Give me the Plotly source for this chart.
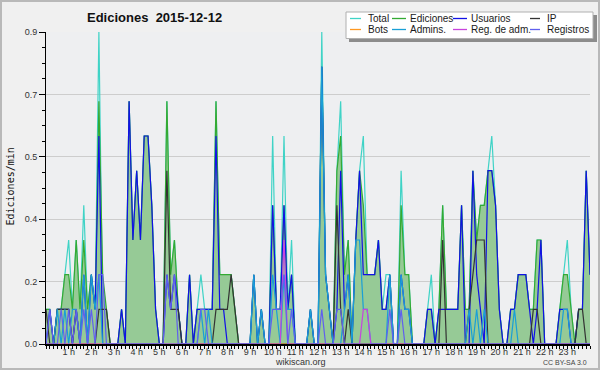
import plotly.graph_objects as go

# ---------------- data (10-minute buckets, edits per minute) ----------------
minutes = list(range(0, 1441, 10))
hours = [m / 60 for m in minutes]

total = [0.1,0.1,0,0.1,0.1,0.2,0.3,0.1,0.3,0.1,
         0.4,0.1,0.2,0.1,0.9,0.1,0.1,0,0,0,
         0.1,0,0.7,0.3,0.5,0.3,0.6,0.6,0.4,0.1,
         0,0,0.7,0.2,0.3,0.1,0,0,0.2,0,
         0.1,0.2,0.1,0.1,0.1,0.7,0.2,0.2,0.2,0.2,
         0.1,0,0,0,0,0.2,0,0.1,0,0,
         0.6,0.1,0.1,0.6,0.1,0.3,0,0,0,0,
         0.1,0,0,0.9,0.2,0.1,0,0.5,0.7,0.2,
         0.3,0,0.3,0.5,0.6,0.2,0.2,0.2,0.3,0.1,
         0.2,0.2,0,0,0.5,0.2,0.2,0,0,0,
         0,0.1,0.2,0,0.1,0.4,0.1,0.1,0.1,0.1,
         0.4,0.1,0.1,0.5,0.3,0.4,0.4,0.5,0.6,0.4,
         0.1,0,0,0.1,0.1,0.2,0.2,0.2,0.1,0.1,
         0.3,0.3,0,0,0,0,0.1,0.2,0.3,0.1,
         0,0.1,0.1,0.5,0.2]

ediciones = [0.1,0.1,0,0.1,0.1,0.2,0.2,0.1,0.3,0.1,
             0.3,0.1,0.2,0.1,0.7,0.2,0.1,0,0,0,
             0.1,0,0.7,0.3,0.5,0.3,0.6,0.6,0.4,0.1,
             0,0,0.7,0.2,0.3,0.1,0,0,0.2,0,
             0.1,0.1,0.1,0.1,0.1,0.7,0.2,0.2,0.2,0.2,
             0.1,0,0,0,0,0.2,0,0.1,0,0,
             0.4,0.1,0.1,0.4,0.1,0.2,0,0,0,0,
             0.1,0,0,0.8,0.2,0.1,0,0.5,0.6,0.2,
             0.3,0,0.3,0.5,0.4,0.2,0.2,0.2,0.3,0.1,
             0.1,0.2,0,0,0.4,0.2,0.2,0,0,0,
             0,0.1,0.1,0,0.1,0.4,0.1,0.1,0.1,0.1,
             0.4,0.1,0.1,0.5,0.3,0.4,0.4,0.5,0.5,0.4,
             0.1,0,0,0.1,0.1,0.2,0.2,0.2,0.1,0.1,
             0.3,0.3,0,0,0,0,0.1,0.2,0.2,0.1,
             0,0.1,0.1,0.5,0.2]

usuarios = [0,0.1,0,0.1,0.1,0.1,0.1,0,0.1,0,
            0.2,0,0.2,0.1,0.6,0,0,0,0,0,
            0.1,0,0.7,0.3,0.5,0.3,0.6,0.6,0.4,0.1,
            0,0,0.2,0.1,0.2,0.1,0,0,0.2,0,
            0.1,0.1,0.1,0.1,0.1,0.6,0.1,0.1,0,0,
            0,0,0,0,0,0.2,0,0.1,0,0,
            0.4,0.1,0.1,0.4,0.1,0.2,0,0,0,0,
            0.1,0,0,0.8,0.2,0.1,0,0.1,0.5,0.1,
            0.2,0,0.3,0.5,0.2,0.2,0.2,0.2,0.3,0.1,
            0.1,0.2,0,0,0.2,0.1,0.1,0,0,0,
            0,0.1,0.1,0,0.1,0.1,0.1,0.1,0.1,0.1,
            0.4,0,0,0.5,0.2,0.1,0,0.5,0.5,0.4,
            0.1,0,0,0.1,0.1,0.2,0.2,0.2,0.1,0,
            0.1,0.3,0,0,0,0,0.1,0.1,0.1,0,
            0,0.1,0.1,0.5,0.2]

ip = [0.1,0,0,0.1,0.1,0.1,0.1,0,0.1,0,
      0,0,0,0,0.1,0.1,0.1,0,0,0,
      0,0,0,0,0,0,0,0,0,0,
      0,0,0.5,0.1,0.1,0.1,0,0,0,0,
      0,0,0,0,0,0.1,0.1,0.1,0.1,0.2,
      0.1,0,0,0,0,0,0,0,0,0,
      0,0,0,0,0,0,0,0,0,0,
      0,0,0,0,0,0,0,0.4,0.1,0,
      0.1,0,0,0,0,0,0,0,0,0,
      0,0,0,0,0,0,0,0,0,0,
      0,0,0,0,0,0.3,0,0,0,0,
      0,0,0.1,0.2,0.3,0.3,0.3,0,0,0,
      0,0,0,0,0,0,0,0,0,0.1,
      0.1,0,0,0,0,0,0,0,0,0,
      0,0.1,0.1,0,0]

bots = [0] * 145

admins = [0,0,0,0.1,0,0.1,0,0.1,0.1,0,
          0.2,0,0.2,0.1,0.2,0,0,0,0,0,
          0,0,0,0,0,0,0,0,0,0,
          0,0,0,0,0,0,0,0,0,0,
          0,0.1,0,0.1,0,0,0,0,0,0,
          0,0,0,0,0,0.2,0,0.1,0,0,
          0.2,0.1,0,0.2,0.1,0.1,0,0,0,0,
          0.1,0,0,0.8,0.2,0.1,0,0,0,0.1,
          0.2,0,0.3,0.3,0.1,0.1,0,0,0,0,
          0,0.2,0,0,0.2,0.1,0.1,0,0,0,
          0,0,0,0,0,0,0,0,0,0,
          0,0,0.1,0,0.1,0,0.1,0,0,0,
          0,0,0,0,0.1,0,0,0,0,0,
          0,0,0,0,0,0,0,0.1,0.1,0,
          0,0,0,0,0]

reg_adm = [0] * 63 + [0.3] + [0] * 20 + [0.1, 0.1] + [0] * 59

registros = [0,0.1,0,0,0.1,0,0.1,0,0.1,0,
             0.1,0,0.1,0,0.2,0.2,0,0,0,0,
             0,0,0,0,0,0,0,0,0,0,
             0,0,0.2,0.1,0.2,0,0,0,0,0,
             0,0.1,0.1,0,0,0,0,0,0,0,
             0,0,0,0,0,0,0,0,0,0,
             0.1,0.1,0.1,0.2,0,0.1,0,0,0,0,
             0,0,0,0.1,0,0,0,0.1,0.1,0,
             0,0,0,0,0,0,0,0,0,0,
             0,0.1,0,0,0.1,0,0,0,0,0,
             0,0,0,0,0,0,0,0,0,0,
             0,0,0,0,0,0,0,0,0,0,
             0,0,0,0,0,0,0,0,0,0,
             0,0,0,0,0,0,0,0,0,0,
             0,0,0,0,0]

hour_ticks = list(range(1, 24))
hour_labels = [f"{h} h" for h in hour_ticks]
y_tickvals = [0, 0.18, 0.36, 0.54, 0.72, 0.9]
y_ticktext = ["0.0", "0.2", "0.4", "0.5", "0.7", "0.9"]

series_names = ["Total", "Ediciones", "Usuarios", "IP", "Bots", "Admins.", "Reg. de adm.", "Registros"]
series_values = [total, ediciones, usuarios, ip, bots, admins, reg_adm, registros]
series_colors = ["#3fd3c6", "#33aa33", "#1111e6", "#333333", "#ff9922", "#1a9fd6", "#c844dd", "#6060ee"]

# ---------------- layout helpers ----------------
W, H = 600, 370
ML, MR, MT, MB = 46, 10, 32, 26
PW, PH = W - ML - MR, H - MT - MB


def px(x):
    return (x - ML) / PW


def py(y):
    return (H - MB - y) / PH


FONT = "Liberation Sans, Arial, sans-serif"

fig = go.Figure()
for name, vals, col in zip(series_names, series_values, series_colors):
    kw = dict(x=hours, y=vals, name=name, mode="lines",
              line=dict(color=col, width=1.2), showlegend=False, hoverinfo="skip")
    if name == "Ediciones":
        kw["fill"] = "tozeroy"
        kw["fillcolor"] = "rgb(150,202,150)"
    fig.add_trace(go.Scatter(**kw))

shapes = []
annotations = []

# outer frame
shapes.append(dict(type="rect", xref="paper", yref="paper",
                   x0=px(1), x1=px(599), y0=py(369), y1=py(1),
                   line=dict(color="#b9b9b9", width=2), layer="above"))

# legend box (shadow + white box)
shapes.append(dict(type="rect", xref="paper", yref="paper",
                   x0=px(349), x1=px(597), y0=py(42), y1=py(15),
                   fillcolor="#8c8c8c", line=dict(width=0), layer="above"))
shapes.append(dict(type="rect", xref="paper", yref="paper",
                   x0=px(346), x1=px(593), y0=py(38.5), y1=py(12),
                   fillcolor="white", line=dict(color="#b0b0b0", width=1), layer="above"))

legend_cols = [(350, 361, 366), (392, 406, 408), (453, 467, 469), (530, 540, 545)]
legend_rows = [18.5, 29.5]
for k, (name, col) in enumerate(zip(series_names, series_colors)):
    row = k // 4
    c = k % 4
    x0, x1, tx = legend_cols[c]
    yy = legend_rows[row]
    shapes.append(dict(type="line", xref="paper", yref="paper",
                       x0=px(x0), x1=px(x1), y0=py(yy), y1=py(yy),
                       line=dict(color=col, width=1.3), layer="above"))
    annotations.append(dict(xref="paper", yref="paper", x=px(tx), y=py(yy),
                            text=name, showarrow=False, xanchor="left", yanchor="middle",
                            font=dict(family=FONT, size=10, color="#1a1a1a")))

# title
annotations.append(dict(xref="paper", yref="paper", x=px(85), y=py(17.5),
                        text="Ediciones\u00a0 2015-12-12", showarrow=False,
                        xanchor="left", yanchor="middle",
                        font=dict(family=FONT, size=13, color="#111111", weight="bold")))
# y axis title
annotations.append(dict(xref="paper", yref="paper", x=px(9.5), y=py(187),
                        text="Ediciones/min", showarrow=False, textangle=-90,
                        xanchor="center", yanchor="middle",
                        font=dict(family="DejaVu Sans Mono, monospace", size=10, color="#111111")))
# footer
annotations.append(dict(xref="paper", yref="paper", x=px(300), y=py(362),
                        text="wikiscan.org", showarrow=False, xanchor="center", yanchor="middle",
                        font=dict(family=FONT, size=9, color="#333333")))
annotations.append(dict(xref="paper", yref="paper", x=px(589), y=py(362.5),
                        text="CC BY-SA 3.0", showarrow=False, xanchor="right", yanchor="middle",
                        font=dict(family=FONT, size=7, color="#444444")))

fig.update_layout(
    width=W, height=H,
    margin=dict(l=ML, r=MR, t=MT, b=MB, autoexpand=False),
    paper_bgcolor="#f0f0f0",
    plot_bgcolor="#eeeff1",
    showlegend=False,
    shapes=shapes,
    annotations=annotations,
    xaxis=dict(range=[0, 24], tickmode="array", tickvals=hour_ticks, ticktext=hour_labels,
               ticks="outside", ticklen=3, tickwidth=1, tickcolor="black",
               showline=True, linecolor="black", linewidth=2, mirror=False,
               showgrid=False, zeroline=False, ticklabelstandoff=-5,
               tickfont=dict(family=FONT, size=9, color="#333333"),
               minor=dict(tickmode="linear", tick0=0, dtick=1 / 6, ticks="outside",
                          ticklen=3, tickwidth=1, tickcolor="black", showgrid=False)),
    yaxis=dict(range=[0, 0.9], tickmode="array", tickvals=y_tickvals, ticktext=y_ticktext,
               ticks="outside", ticklen=6, tickwidth=1, tickcolor="black",
               showline=True, linecolor="black", linewidth=1,
               showgrid=True, gridcolor="#cdcdcd", gridwidth=1, zeroline=False,
               tickfont=dict(family=FONT, size=9, color="#333333"),
               minor=dict(tickmode="linear", tick0=0, dtick=0.045, ticks="outside",
                          ticklen=3, tickwidth=1, tickcolor="black", showgrid=False)),
)

fig.write_html("out.html",
               config={"staticPlot": True, "displayModeBar": False},
               post_script="document.body.style.margin='0';document.body.style.padding='0';"
                           "document.documentElement.style.overflow='hidden';")
